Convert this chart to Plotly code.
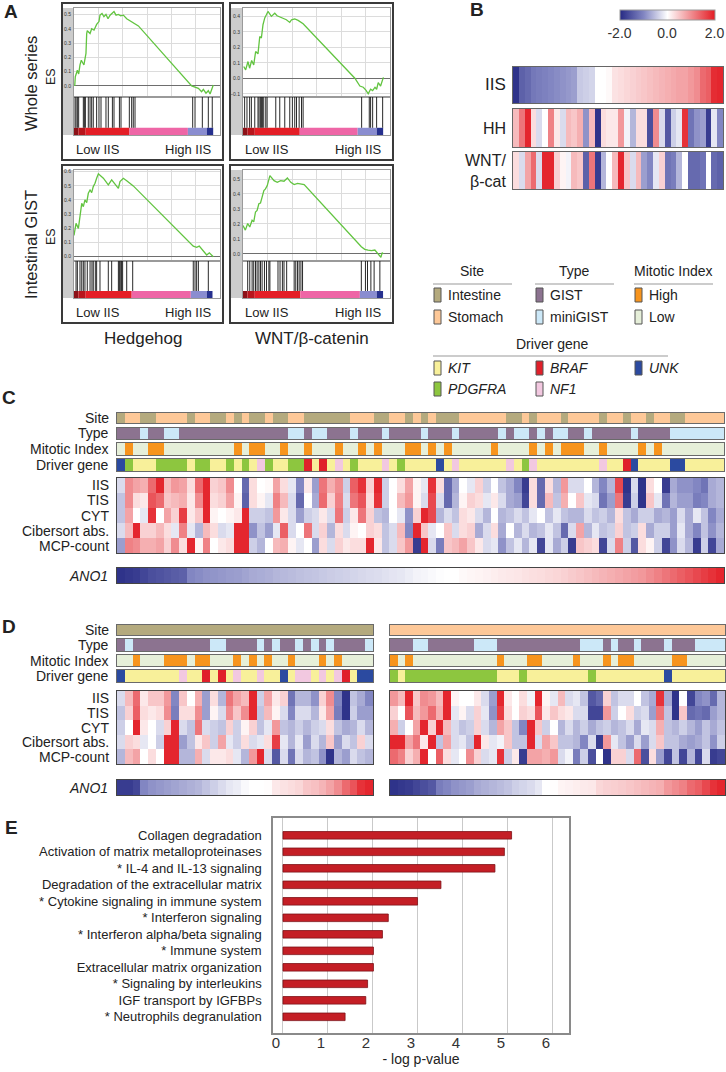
import plotly.graph_objects as go

FONT = "Liberation Sans, Arial, sans-serif"
W, H = 726, 1072

# ---------------- panel A: GSEA running enrichment scores ----------------
ES_X_WHOLE_HH = [0.5, 0.9, 2.3, 3.2, 4.1, 5.0, 6.8, 8.2, 8.7, 9.1, 11.0, 12.1, 13.7, 15.5, 17.1, 17.8,
                 19.2, 20.5, 21.9, 23.3, 24.7, 26.0, 27.4, 28.8, 30.4, 32.0, 33.8, 36.1, 40.6, 44.1,
                 80.6, 82.9, 85.2, 87.4, 88.6, 90.4, 92.0, 93.2, 94.3, 95.4]
ES_Y_WHOLE_HH = [0.0, 0.065, 0.11, 0.084, 0.147, 0.18, 0.147, 0.228, 0.367, 0.386, 0.367, 0.40, 0.39,
                 0.43, 0.45, 0.495, 0.507, 0.484, 0.50, 0.47, 0.495, 0.51, 0.52, 0.495, 0.50, 0.49,
                 0.495, 0.47, 0.44, 0.42, 0.0, -0.01, -0.016, -0.04, -0.023, -0.05, -0.033, -0.056,
                 -0.028, 0.007]
HITS_WHOLE_HH = [0.7, 1.4, 2.3, 3.2, 6.4, 7.1, 7.8, 9.8, 11.0, 12.1, 13.2, 15.5, 17.1, 18.5, 21.9, 23.5,
                 26.3, 27.4, 31.1, 32.2, 37.9, 39.5, 40.6, 41.8, 81.3, 82.9, 87.9, 92.0, 94.7]

ES_X_WHOLE_WNT = [0.5, 1.8, 3.4, 4.5, 5.9, 7.3, 8.6, 10.2, 11.4, 12.5, 13.6, 14.8, 15.9, 17.0, 19.3, 21.6,
                  23.2, 25.0, 27.3, 29.5, 31.8, 33.0, 35.2, 37.5, 40.9, 76.1, 79.5, 81.8, 83.6, 85.2,
                  86.8, 88.2, 89.8, 90.9, 92.0, 93.6, 95.5]
ES_Y_WHOLE_WNT = [0.076, 0.054, 0.108, 0.065, 0.115, 0.086, 0.173, 0.158, 0.27, 0.26, 0.346, 0.39, 0.41,
                  0.432, 0.40, 0.42, 0.404, 0.396, 0.39, 0.378, 0.361, 0.378, 0.383, 0.374, 0.352, 0.0,
                  -0.05, -0.058, -0.076, -0.10, -0.071, -0.08, -0.058, -0.071, -0.028, -0.05, 0.006]
HITS_WHOLE_WNT = [1.1, 2.7, 4.5, 5.7, 8.0, 10.2, 10.9, 11.8, 12.5, 13.2, 14.1, 15.5, 16.4, 22.3, 25.0,
                  28.4, 31.8, 33.6, 35.2, 36.4, 38.2, 39.8, 40.9, 80.7, 85.9, 86.8, 88.2, 90.9, 95.0]

ES_X_INT_HH = [0.0, 1.4, 3.0, 4.1, 5.3, 6.4, 7.5, 8.7, 9.8, 11.0, 12.1, 13.2, 14.4, 15.5, 16.7, 20.1,
               23.5, 25.8, 29.2, 30.4, 31.5, 33.8, 36.1, 38.4, 40.6, 81.7, 84.0, 85.8, 88.6, 90.9,
               92.7, 95.4]
ES_Y_INT_HH = [0.15, 0.235, 0.20, 0.306, 0.376, 0.353, 0.40, 0.381, 0.447, 0.47, 0.452, 0.494, 0.518,
               0.553, 0.584, 0.553, 0.506, 0.541, 0.494, 0.482, 0.529, 0.553, 0.536, 0.518, 0.499,
               0.075, 0.066, 0.075, 0.042, 0.012, 0.028, 0.0]
HITS_INT_HH = [1.4, 2.3, 4.1, 5.3, 6.4, 7.5, 9.1, 11.0, 12.3, 13.2, 14.6, 15.5, 17.8, 23.5, 25.8, 30.4,
               31.1, 32.0, 32.6, 33.3, 36.1, 40.2, 81.7, 82.9, 84.0, 85.2, 92.0]

ES_X_INT_WNT = [0.0, 1.6, 3.2, 4.6, 6.2, 7.3, 8.5, 9.6, 10.8, 11.9, 13.0, 14.2, 15.3, 16.5, 18.3, 19.9,
                21.1, 23.3, 25.6, 27.9, 30.2, 32.5, 34.8, 37.1, 39.4, 41.6, 80.5, 82.8, 85.1, 87.4,
                89.7, 92.0, 93.8, 94.7, 95.4]
ES_Y_INT_WNT = [0.19, 0.159, 0.203, 0.18, 0.225, 0.214, 0.28, 0.29, 0.335, 0.34, 0.379, 0.423, 0.434,
                0.456, 0.522, 0.50, 0.489, 0.478, 0.489, 0.485, 0.507, 0.478, 0.463, 0.471, 0.467,
                0.463, 0.048, 0.031, 0.026, 0.022, 0.026, 0.0, -0.022, 0.009, 0.0]
HITS_INT_WNT = [3.2, 4.6, 6.2, 7.3, 8.5, 9.6, 10.8, 11.9, 13.0, 14.6, 16.0, 17.6, 18.3, 23.8, 25.2, 26.8,
                27.9, 29.7, 34.8, 35.9, 37.1, 38.2, 39.4, 40.5, 80.5, 83.3, 84.7, 87.0, 89.2, 93.1]

RANK_COLORS = ["#8c1117", "#b8151c", "#e41e26", "#ee66a6", "#8a8dd0", "#26308e", "#ffffff"]
EDGES_WHOLE_HH = [0, 3, 8, 38, 78, 91, 95.5, 100]
EDGES_WHOLE_WNT = [0, 3, 8, 38.6, 78, 91, 95.5, 100]
EDGES_INT_HH = [0, 3, 8, 39.5, 80, 91, 95, 100]
EDGES_INT_WNT = [0, 3, 8, 39, 79.5, 91, 95.4, 100]

# ---------------- panel B ----------------
B_ROWS = ["IIS", "HH", "WNT/<br>β-cat"]
IIS_B = [-1.9, -1.4, -1.3, -1.15, -1.1, -1.05, -1.0, -0.95, -0.9, -0.85, -0.8, -0.45, -0.4, -0.35,
         0.0, 0.0, 0.05, 0.25, 0.3, 0.35, 0.4, 0.45, 0.5, 0.55, 0.6, 0.65, 0.7, 0.75, 0.8, 0.8, 0.9,
         1.0, 1.3, 1.4, 1.85, 1.9]
HH_B = [0.6, 1.2, 1.9, 0.3, -0.3, 0.0, 1.1, 0.2, -0.3, 0.6, 0.5, 0.7, -0.9, 0.6, -1.9, 0.3, 0.2, 0.2,
        0.9, -0.1, -0.6, 0.3, 0.3, -1.6, 1.0, -0.3, -1.5, -0.4, -0.2, 1.8, -1.2, -0.9, -0.8, -1.8,
        -0.2, -1.0]
WNT_B = [0.3, -0.3, 0.8, 1.3, -0.3, 1.9, 1.9, 0.4, 0.1, -0.1, 0.6, 0.5, -1.4, 1.2, -1.8, -0.6, 0.0,
         0.6, 1.9, 0.5, -0.3, 0.6, -0.8, -1.0, -0.2, 0.4, -1.2, -1.1, -0.6, 0.0, -1.3, -1.3, -1.2,
         0.0, -1.3, -1.4]

# ---------------- annotation categories ----------------
SITE_CATS = [("I", "Intestine", "#b4aa7e"), ("S", "Stomach", "#fdc898")]
TYPE_CATS = [("G", "GIST", "#8c7390"), ("M", "miniGIST", "#cce8f8")]
MITO_CATS = [("H", "High", "#f7941d"), ("L", "Low", "#e6efd9")]
DRIVER_CATS = [("K", "KIT", "#f8f09a"), ("P", "PDGFRA", "#8dc63f"), ("B", "BRAF", "#e0202a"),
               ("N", "NF1", "#f2c8e0"), ("U", "UNK", "#2b4aa0")]

SCORE_ROWS = ["IIS", "TIS", "CYT", "Cibersort abs.", "MCP-count"]

# ---------------- panel C (whole series, 78 samples) ----------------
SITE_C = "I SS II SSSS I SS II S I S II S II SS IIIIII SSS II SS I S I S III SSSSSS II S I SSS I SSSS I SS I SS I SS II SSSSS"
TYPE_C = "GGG M GG MM GGGGGGGGGGGGGG MM G MM GGG M GGG M GGGG M GGG M GGGGG M G MM G M G MM GG M GGGGG M GGGG MMMMMMM"
MITO_C = "L H LL HH LLLLLLLLL H L HH LL H LL H LLL H LL H L H LLL HH L H L H LLLLL H LLLL H L H L HHH LL H LLLL H L H LLLLLLLL"
DRIVER_C = "U P KKK PPPP K PP KK P K P K N P KK PP B K B K N K P KKK N K P KKKK U K N KKKKKK N K P N KKKKKKKK N KK B U KKKK UU KKKKK"

IIS_C = [-0.3, 1.0, 0.8, 0.7, 1.3, 1.9, 0.6, 0.9, 0.8, 0.3, 1.3, 1.9, 0.4, 0.5, 1.0, 0.0, -1.3, 0.3, 0.0,
         0.05, 0.8, 0.3, -0.2, -1.0, 0.2, -0.8, 1.2, 0.7, 1.0, -0.4, 1.4, 1.8, 0.4, 1.9, -0.4, 0.0, 0.3,
         0.8, 0.1, -0.2, 1.8, 0.3, -1.3, -0.7, 0.0, -0.2, 0.4, -0.4, 0.0, -0.5, -0.7, -1.0, -1.8, 0.3,
         -1.3, 0.3, -0.6, 0.9, -0.3, -0.3, 0.0, -0.6, -1.0, -0.6, 1.6, -1.9, -0.3, -1.9, 0.3, 0.0, -1.8,
         -0.7, -0.9, -0.9, -1.0, -1.2, -0.7, -0.6]
TIS_C = [-0.5, 1.0, 0.3, 0.2, 1.5, 1.3, 0.5, 0.6, 0.7, 0.2, 1.0, 1.9, 0.3, 0.4, 0.8, 0.1, -1.4, 0.3, 0.1,
         -0.2, 1.1, 0.6, -0.3, -1.3, 0.0, -0.7, 1.3, 0.4, 1.1, -0.3, 1.2, 1.5, 0.3, 1.8, -0.4, 0.0, 0.6,
         0.9, 0.1, -0.3, 1.6, -0.3, -1.3, -0.6, 0.1, 0.4, 0.3, -0.2, 0.2, -0.3, -0.7, -0.8, -1.7, 0.3,
         -1.3, 0.6, -0.5, 0.7, 0.0, 0.5, -0.2, -0.3, -1.2, -0.8, 1.2, -1.8, -0.4, -1.9, 0.5, -0.2, -1.2,
         -0.6, -0.8, -0.8, -1.1, -1.0, -0.7, -0.6]
CYT_C = [-0.5, 0.8, 0.0, -0.2, 1.8, 0.0, 0.8, 0.4, 1.7, 0.2, 0.5, 1.9, 0.1, 0.0, 0.1, 0.2, 1.9, -0.4, -0.4,
         -0.5, 0.9, 0.2, -0.3, -0.8, -0.4, -0.3, 0.2, -0.3, 1.2, -0.4, 0.2, 1.2, 0.4, -0.5, -0.6, 0.0,
         -0.2, -0.9, 0.4, 1.9, 1.6, -0.6, -0.3, -0.5, 0.3, 0.2, -0.3, -0.6, 0.0, -0.6, -0.5, -0.3, -0.5,
         -0.2, 0.0, -0.5, -0.2, -0.5, -0.6, -0.6, -0.3, -0.5, -0.4, -0.6, 0.3, -0.5, -0.7, -0.4, -0.4,
         -0.7, -0.6, -0.8, -0.3, -0.7, -0.2, -0.5, -1.0, -0.7]
CIBER_C = [-0.3, 0.6, 1.9, 0.4, 0.4, 0.6, 0.3, -0.2, 1.1, -0.2, -0.6, 0.6, 0.3, -0.3, -0.2, 1.9, 1.9, -0.9,
           -0.5, -0.8, -0.2, 1.4, -0.3, 0.0, 1.2, -0.3, 0.4, -0.6, 0.3, -0.3, 0.1, 0.0, 0.4, 0.3, -0.5,
           -0.3, 0.6, -1.0, 1.9, 0.5, -0.2, 0.0, 0.5, -0.3, 0.3, 0.4, -0.7, -0.3, 0.3, -0.7, 0.0, -0.6,
           -0.3, -0.6, -0.5, -0.2, -0.5, -1.3, -0.3, 0.8, -0.6, -0.2, -0.5, -0.4, 0.4, -0.5, -0.4, 0.3,
           -0.7, -0.4, -0.4, -0.8, -0.2, -0.7, -1.0, -0.5, -0.9, -0.6]
MCP_C = [-0.8, 1.1, 1.0, 0.7, 0.7, 0.8, 0.4, 1.0, 0.3, 1.9, 0.1, 1.1, 0.0, 0.2, 0.3, 1.9, 1.9, -0.4, -0.6,
         0.0, 0.6, 0.7, 0.1, -0.2, 0.0, -0.8, 0.3, -0.3, 0.4, 0.2, 0.3, 0.3, 1.9, 0.2, -0.5, -0.3, 0.5,
         0.9, -1.8, 1.9, -0.3, -1.1, 0.5, 0.6, 0.8, 0.5, 0.2, -0.3, -0.2, -0.9, -0.5, -0.2, -0.6, -0.2,
         -1.7, -0.2, -0.7, -0.4, -1.8, 0.5, 0.4, 0.3, -1.7, -0.3, 1.1, -0.4, -1.5, 0.3, 0.1, -0.4, -1.7,
         -0.9, -0.3, -0.6, -1.8, -0.4, -1.7, -0.7]
ANO1_C = [-1.9, -1.85, -1.8, -1.7, -1.6, -1.55, -1.5, -1.45, -1.4, -1.0, -0.95, -0.9, -0.88, -0.85, -0.82,
          -0.8, -0.75, -0.7, -0.68, -0.65, -0.6, -0.58, -0.55, -0.52, -0.5, -0.48, -0.45, -0.42, -0.4,
          -0.38, -0.35, -0.32, -0.3, -0.28, -0.25, -0.22, -0.2, -0.15, -0.1, -0.08, -0.05, -0.02, 0.0,
          0.0, 0.05, 0.08, 0.1, 0.12, 0.15, 0.18, 0.2, 0.22, 0.25, 0.28, 0.3, 0.33, 0.36, 0.4, 0.45, 0.5,
          0.55, 0.6, 0.65, 0.7, 0.75, 0.8, 0.85, 0.9, 1.0, 1.1, 1.2, 1.3, 1.4, 1.5, 1.6, 1.7, 1.8, 1.9]

# ---------------- panel D left (intestine, 33 samples) ----------------
TYPE_DL = "G M GGGGGGGGGG MM GGGG M G M GG M G M G M GGGG M"
MITO_DL = "LL H LLL HHH L HH LLL H L H L H LL H LLL H L H LLLL"
DRIVER_DL = "U KKKKKKK N KK B K B K N KK N KK U K NN K N K N B K UU"
IIS_DL = [-0.3, 0.6, 1.3, 0.2, 0.5, 0.5, 0.9, -1.0, 0.5, 0.0, 0.7, -0.8, 0.3, -0.6, 1.2, 0.8, 0.6, 1.9,
          -0.4, 0.8, 0.2, 0.4, -1.2, -0.6, -0.6, -0.9, 0.4, 1.0, -1.0, -1.9, -0.5, -0.7, -1.0]
TIS_DL = [-0.5, 0.4, 1.4, 0.3, 0.2, 0.3, 1.0, -1.1, 0.3, 0.3, 1.0, -0.8, 0.1, -0.3, 1.0, 0.5, 1.0, 1.9,
          -0.5, 0.6, 0.1, -0.3, -1.0, -0.3, -0.3, -0.6, 0.2, 0.8, -1.1, -1.9, -0.4, -0.8, -0.8]
CYT_DL = [-0.4, 0.0, 1.9, 0.2, 0.0, -0.3, 0.4, 1.9, -0.3, -0.5, 1.2, -0.3, -0.4, -0.5, 0.4, -0.4, 0.1, 0.4,
          -0.5, -0.2, 0.9, -0.5, -0.6, -0.4, -0.6, -0.4, -0.3, 0.3, -0.5, -0.7, -0.6, -0.3, -0.6]
CIBER_DL = [-0.3, 0.4, 0.3, -0.2, 0.0, -0.4, 1.9, 1.9, -0.8, -0.5, 0.2, 0.5, -0.4, 0.8, -0.2, -0.4, 0.3,
            -0.3, -0.2, 0.3, 1.7, -0.2, -0.6, -0.2, -0.8, -0.3, -0.6, 0.5, -0.8, -0.3, -0.5, 0.4, -0.3]
MCP_DL = [-0.6, 0.6, 0.8, 0.0, 0.3, 0.0, 1.9, 1.9, -0.6, -0.6, 0.7, -0.3, 0.2, 0.2, 0.3, -0.2, -0.6, 0.9,
          1.9, -0.3, -1.5, -0.3, -1.2, -0.3, -0.6, -0.5, -0.9, -1.9, -0.6, -0.8, -0.3, -0.5, -0.6]
ANO1_DL = [-1.8, -1.8, -1.7, -1.0, -0.9, -0.85, -0.8, -0.75, -0.7, -0.65, -0.6, -0.5, -0.4, -0.3, -0.2,
           -0.15, -0.05, 0.0, 0.0, 0.02, 0.2, 0.25, 0.3, 0.35, 0.5, 0.55, 0.65, 0.8, 1.0, 1.3, 1.5, 1.8,
           1.9]

# ---------------- panel D right (stomach, 44 samples) ----------------
TYPE_DR = "GGG MM GGGGGG MMM GGGGGGGGGGG MMM G M GG M GGG M GGG MMMM"
MITO_DR = "H L H LLLLLLLLLLL H LLL HH LLLL H LLL H L HH LLLLL HH LLLLL"
DRIVER_DR = "P K PPPPPPPPPPPP KKK P KKKKKKKK P KKKKKKKKK U KKKKKKK"
IIS_DR = [0.9, 0.6, 1.9, 0.5, 1.0, 0.9, 0.6, 1.9, 0.1, 0.0, 0.0, 0.2, -0.3, -0.8, 1.9, 0.2, 0.0, 0.3,
          -0.1, 1.9, 0.1, -0.2, 0.6, -0.3, -0.2, -0.5, -1.5, -1.3, 0.4, -0.5, -0.3, -0.3, 0.0, -0.5,
          -0.7, 1.8, -0.7, -1.9, 0.0, -1.7, -1.0, -0.9, -1.3, -0.6]
TIS_DR = [0.4, 0.0, 1.5, 0.6, 0.9, 1.3, 0.7, 1.9, -0.2, 0.1, -0.3, 0.4, -0.2, -0.9, 1.7, 0.3, 0.0, 0.4,
          0.3, 1.5, 0.2, 0.5, 0.3, 0.2, -0.3, -0.3, -1.7, -1.7, 0.9, -0.4, 0.0, 0.3, -0.4, -0.3, -0.8,
          1.2, -0.5, -1.9, 0.5, -1.3, -1.2, -1.3, -0.8, -0.6]
CYT_DR = [0.7, -0.4, 0.0, 0.8, 1.9, 0.4, 1.9, 0.6, -0.3, -0.5, -0.4, 0.4, -0.3, -0.6, 0.8, 0.5, -0.5,
          -1.0, 1.9, 0.5, -0.4, 0.0, -0.6, -0.3, -0.6, -0.4, -0.7, -0.5, -0.4, -0.6, -0.5, -0.3, -0.7,
          -0.2, -0.3, 0.7, -0.5, -0.6, -0.4, -0.6, -0.8, -0.5, -0.7, -0.5]
CIBER_DR = [1.9, 1.9, 0.8, 1.2, 0.2, 1.9, -0.5, 0.8, -0.3, -0.2, -0.5, 1.9, 0.2, -0.2, -0.1, 0.5, -0.5,
            -0.5, 1.9, -0.3, 0.8, 0.5, -0.5, -0.5, -0.6, -1.0, -0.3, -1.8, 0.9, -0.2, -0.5, -0.8, -0.3,
            -0.8, -0.3, 0.5, -0.5, -0.5, -0.7, -0.8, -0.7, -0.5, -0.9, -0.4]
MCP_DR = [1.3, 1.1, 0.4, 0.7, 1.9, 0.0, 1.4, 0.3, -0.2, 0.0, 1.0, 0.4, -0.3, -0.2, 1.8, -0.4, 0.2, -1.8,
          0.8, 0.8, 0.7, 0.9, -0.3, -0.1, -1.1, -0.4, -1.6, 0.0, -1.9, 0.4, 0.4, -0.3, 1.3, -1.6, 0.3,
          -0.8, -1.7, -0.5, -1.7, -0.6, -1.7, -0.3, -1.8, -1.7]
ANO1_DR = [-1.9, -1.85, -1.8, -1.7, -1.6, -1.5, -1.1, -1.0, -0.9, -0.85, -0.8, -0.7, -0.65, -0.6, -0.55,
           -0.5, -0.4, -0.35, -0.3, -0.2, 0.0, 0.02, 0.1, 0.12, 0.15, 0.18, 0.2, 0.35, 0.4, 0.42, 0.45,
           0.5, 0.55, 0.6, 0.65, 0.7, 0.9, 1.0, 1.1, 1.3, 1.4, 1.6, 1.8, 1.9]

# ---------------- panel E: pathway enrichment ----------------
E_LABELS = ["Collagen degradation", "Activation of matrix metalloproteinases",
            "* IL-4 and IL-13 signaling", "Degradation of the extracellular matrix",
            "* Cytokine signaling in immune system", "* Interferon signaling",
            "* Interferon alpha/beta signaling", "* Immune system",
            "Extracellular matrix organization", "* Signaling by interleukins",
            "IGF transport by IGFBPs", "* Neutrophils degranulation"]
E_VALUES = [5.08, 4.92, 4.71, 3.51, 2.99, 2.34, 2.21, 2.01, 2.01, 1.88, 1.84, 1.38]
E_TICKS = [0, 1, 2, 3, 4, 5, 6]


def codes(s):
    return list("".join(s.split()))


for seq, n in [(SITE_C, 78), (TYPE_C, 78), (MITO_C, 78), (DRIVER_C, 78),
               (TYPE_DL, 33), (MITO_DL, 33), (DRIVER_DL, 33),
               (TYPE_DR, 44), (MITO_DR, 44), (DRIVER_DR, 44)]:
    assert len(codes(seq)) == n, (seq, len(codes(seq)))
for row, n in [(IIS_C, 78), (TIS_C, 78), (CYT_C, 78), (CIBER_C, 78), (MCP_C, 78), (ANO1_C, 78),
               (IIS_DL, 33), (TIS_DL, 33), (CYT_DL, 33), (CIBER_DL, 33), (MCP_DL, 33), (ANO1_DL, 33),
               (IIS_DR, 44), (TIS_DR, 44), (CYT_DR, 44), (CIBER_DR, 44), (MCP_DR, 44), (ANO1_DR, 44)]:
    assert len(row) == n, (n, len(row))

HEAT_CS = [[0, "#262a84"], [0.25, "#8286c2"], [0.5, "#ffffff"], [0.75, "#f08c90"], [1, "#e31b23"]]
TXT = "#222222"

fig = go.Figure()
axes = {}
shapes = []
notes = []
count = [0]


def fx(x):
    return x / W


def fy(y):
    return 1 - y / H


def add_axes(x0, x1, y0, y1, xopt, yopt):
    count[0] += 1
    s = "" if count[0] == 1 else str(count[0])
    axes["xaxis" + s] = dict(domain=[fx(x0), fx(x1)], anchor="y" + s, **xopt)
    axes["yaxis" + s] = dict(domain=[fy(y1), fy(y0)], anchor="x" + s, **yopt)
    return "x" + s, "y" + s


BLANK = dict(showticklabels=False, showgrid=False, zeroline=False, ticks="", fixedrange=True)


def frame(color="#666666", width=1.2):
    return dict(showline=True, mirror=True, linecolor=color, linewidth=width)


def label(x, y, text, size=14, anchor="center", **kw):
    notes.append(dict(x=fx(x), y=fy(y), xref="paper", yref="paper", text=text, showarrow=False,
                      xanchor=anchor, yanchor="middle", borderpad=0,
                      font=dict(size=size, family=FONT, color=TXT), **kw))


def rect(x0, y0, x1, y1, fill="rgba(0,0,0,0)", line="#333333", width=1, layer="above"):
    shapes.append(dict(type="rect", xref="paper", yref="paper", x0=fx(x0), x1=fx(x1),
                       y0=fy(y1), y1=fy(y0), fillcolor=fill, layer=layer,
                       line=dict(color=line, width=width)))


def heat(rows, x0, x1, y0, y1, border="#555555", **kw):
    ncol, nrow = len(rows[0]), len(rows)
    xa, ya = add_axes(x0, x1, y0, y1,
                      dict(range=[-0.5, ncol - 0.5], **BLANK, **frame(border)),
                      dict(range=[nrow - 0.5, -0.5], **BLANK, **frame(border)))
    opts = dict(showscale=False)
    opts.update(kw)
    fig.add_trace(go.Heatmap(z=rows, xaxis=xa, yaxis=ya, colorscale=HEAT_CS, zmin=-2, zmax=2,
                             hoverinfo="skip", **opts))


def track(seq, cats, x0, x1, y0, y1):
    keys = [c[0] for c in cats]
    z = [[keys.index(c) for c in codes(seq)]]
    n = len(cats)
    cs = []
    for i, c in enumerate(cats):
        cs += [[i / n, c[2]], [(i + 1) / n, c[2]]]
    xa, ya = add_axes(x0, x1, y0, y1,
                      dict(range=[-0.5, len(z[0]) - 0.5], **BLANK, **frame("#6a6a6a")),
                      dict(range=[-0.5, 0.5], **BLANK, **frame("#6a6a6a")))
    fig.add_trace(go.Heatmap(z=z, xaxis=xa, yaxis=ya, colorscale=cs, zmin=-0.5, zmax=n - 0.5,
                             showscale=False, hoverinfo="skip"))


# ================= Panel A =================
boxes = [
    # box rect, plot x, es y, hits y, y range, data
    ((62, 223, 3, 160), (74, 220), (8, 97), (97, 135), [-0.077, 0.545],
     ES_X_WHOLE_HH, ES_Y_WHOLE_HH, HITS_WHOLE_HH, EDGES_WHOLE_HH, 149),
    ((230, 393, 3, 160), (243, 390), (8, 97), (97, 135), [-0.121, 0.454],
     ES_X_WHOLE_WNT, ES_Y_WHOLE_WNT, HITS_WHOLE_WNT, EDGES_WHOLE_WNT, 149),
    ((62, 223, 165, 323), (74, 220), (170, 261), (261, 298), [-0.03, 0.611],
     ES_X_INT_HH, ES_Y_INT_HH, HITS_INT_HH, EDGES_INT_HH, 312),
    ((230, 393, 165, 323), (243, 390), (170, 261), (261, 298), [-0.047, 0.56],
     ES_X_INT_WNT, ES_Y_INT_WNT, HITS_INT_WNT, EDGES_INT_WNT, 312),
]

for (bx0, bx1, by0, by1), (px0, px1), (ey0, ey1), (hy0, hy1), yr, ex, ey, hits, edges, ty in boxes:
    rect(bx0, ey0, px0, hy1, fill="#cccccc", line="#cccccc", width=0, layer="below")
    xa, ya = add_axes(px0, px1, ey0, ey1,
                      dict(range=[0, 100], showticklabels=False, ticks="", zeroline=False,
                           showgrid=True, gridcolor="#dcdcdc", gridwidth=1, tick0=0, dtick=100 / 6,
                           fixedrange=True, **frame("#9a9a9a", 1)),
                      dict(range=yr, dtick=0.1, tick0=0, tickformat=".1f", ticks="",
                           tickfont=dict(size=5, color="#333333"), ticklabelstandoff=1,
                           showgrid=True, gridcolor="#dcdcdc", zeroline=True, zerolinecolor="#6e6e6e",
                           zerolinewidth=1, fixedrange=True, **frame("#9a9a9a", 1)))
    fig.add_trace(go.Scatter(x=ex, y=ey, mode="lines", line=dict(color="#62c440", width=1.3),
                             xaxis=xa, yaxis=ya, hoverinfo="skip"))

    xa, ya = add_axes(px0, px1, hy0, hy1,
                      dict(range=[0, 100], **BLANK, **frame("#9a9a9a", 1)),
                      dict(range=[0, 1], **BLANK, **frame("#9a9a9a", 1)))
    hx, hyv = [], []
    for h in hits:
        hx += [h, h, None]
        hyv += [0.19, 1, None]
    fig.add_trace(go.Scatter(x=hx, y=hyv, mode="lines", line=dict(color="#111111", width=0.9),
                             xaxis=xa, yaxis=ya, hoverinfo="skip"))
    widths = [b - a for a, b in zip(edges[:-1], edges[1:])]
    fig.add_trace(go.Bar(x=widths, base=edges[:-1], y=[0.095] * len(widths), width=0.19,
                         orientation="h", marker=dict(color=RANK_COLORS, line=dict(width=0)),
                         xaxis=xa, yaxis=ya, hoverinfo="skip"))

    rect(bx0, by0, bx1, by1, line="#3a3a3a", width=2)
    label(px0 + 1, ty, "Low IIS", 13, anchor="left")
    label(px1 - 7, ty, "High IIS", 13, anchor="right")

label(31, 84, "Whole series", 16.5, textangle=-90)
label(51, 77, "ES", 12.5, textangle=-90)
label(31, 245, "Intestinal GIST", 16.5, textangle=-90)
label(51, 237, "ES", 12.5, textangle=-90)
label(143, 338, "Hedgehog", 17)
label(312, 338, "WNT/β-catenin", 17)

# ================= Panel B =================
b_rows = [IIS_B, HH_B, WNT_B]
b_y = [(67, 103), (109, 147), (152, 189)]
for i, (name, vals, (y0, y1)) in enumerate(zip(B_ROWS, b_rows, b_y)):
    extra = {}
    if i == 0:
        extra = dict(showscale=True,
                     colorbar=dict(orientation="h", x=fx(667), xanchor="center", y=fy(10.5),
                                   yanchor="top", len=95, lenmode="pixels", thickness=10,
                                   thicknessmode="pixels", tickvals=[-2, 0, 2],
                                   ticktext=["-2.0", "0.0", "2.0"], ticks="", xpad=0, ypad=0,
                                   ticklabeloverflow="allow",
                                   outlinecolor="#999999", outlinewidth=1,
                                   tickfont=dict(size=14, family=FONT, color="#333333")))
    heat([vals], 513, 723, y0, y1, border="#666666", **extra)
    label(507, (y0 + y1) / 2, name, 17 if i == 0 else 16, anchor="right", align="right")

# legend for annotation tracks
groups = [("Site", 433, SITE_CATS), ("Type", 535, TYPE_CATS), ("Mitotic Index", 634, MITO_CATS)]
for title, gx, cats in groups:
    label(gx + 39, 271, title, 14)
    shapes.append(dict(type="line", xref="paper", yref="paper", x0=fx(gx), x1=fx(gx + 79),
                       y0=fy(284), y1=fy(284), line=dict(color="#9a9a9a", width=1.2)))
    for j, (_, name, col) in enumerate(cats):
        yy = 295 + 22 * j
        rect(gx + 1, yy - 7, gx + 8, yy + 7, fill=col, line="#555555", width=1)
        label(gx + 14, yy, name, 14, anchor="left")

label(552, 344, "Driver gene", 14)
shapes.append(dict(type="line", xref="paper", yref="paper", x0=fx(433), x1=fx(668),
                   y0=fy(356), y1=fy(356), line=dict(color="#9a9a9a", width=1.2)))
driver_pos = [(433, 368), (433, 389), (535, 368), (535, 389), (634, 368)]
for (gx, yy), (_, name, col) in zip(driver_pos, DRIVER_CATS):
    rect(gx + 1, yy - 7, gx + 8, yy + 7, fill=col, line="#555555", width=1)
    label(gx + 14, yy, "<i>" + name + "</i>", 14, anchor="left")

# ================= Panel C =================
LX = 110
c_tracks = [("Site", SITE_C, SITE_CATS, 413, 423), ("Type", TYPE_C, TYPE_CATS, 428, 439),
            ("Mitotic Index", MITO_C, MITO_CATS, 443, 455), ("Driver gene", DRIVER_C, DRIVER_CATS, 459, 471)]
for name, seq, cats, y0, y1 in c_tracks:
    track(seq, cats, 117, 724, y0, y1)
    label(LX, (y0 + y1) / 2, name, 14, anchor="right")
heat([IIS_C, TIS_C, CYT_C, CIBER_C, MCP_C], 117, 724, 478, 553, border="#444444")
for i, name in enumerate(SCORE_ROWS):
    label(LX, 478 + 7.5 + 15 * i, name, 14, anchor="right")
heat([ANO1_C], 117, 724, 568, 583, border="#444444")
label(LX - 1, 576, "<i>ANO1</i>", 14, anchor="right")

# ================= Panel D =================
d_tracks = [("Site", 625, 635), ("Type", 639, 651), ("Mitotic Index", 655, 666), ("Driver gene", 670, 682)]
left = ["I" * 33, TYPE_DL, MITO_DL, DRIVER_DL]
right = ["S" * 44, TYPE_DR, MITO_DR, DRIVER_DR]
cat_list = [SITE_CATS, TYPE_CATS, MITO_CATS, DRIVER_CATS]
for (name, y0, y1), sl, sr, cats in zip(d_tracks, left, right, cat_list):
    track(sl, cats, 117, 373, y0, y1)
    track(sr, cats, 390, 725, y0, y1)
    label(LX, (y0 + y1) / 2, name, 14, anchor="right")
heat([IIS_DL, TIS_DL, CYT_DL, CIBER_DL, MCP_DL], 117, 373, 691, 764, border="#444444")
heat([IIS_DR, TIS_DR, CYT_DR, CIBER_DR, MCP_DR], 390, 725, 691, 764, border="#444444")
for i, name in enumerate(SCORE_ROWS):
    label(LX, 691 + 7.3 + 14.6 * i, name, 14, anchor="right")
heat([ANO1_DL], 117, 373, 780, 795, border="#444444")
heat([ANO1_DR], 390, 725, 780, 795, border="#444444")
label(LX - 1, 788, "<i>ANO1</i>", 14, anchor="right")

# ================= Panel E =================
# bars and grid sit on the back plane, tick labels are drawn on the front edge (shifted left)
count[0] += 1
se = str(count[0])
axes["xaxis" + se] = dict(domain=[fx(273), fx(569)], anchor="y" + se, range=[-0.222, 6.356],
                          tickvals=E_TICKS, ticks="", zeroline=False, showgrid=True,
                          gridcolor="#c9c9c9", gridwidth=1, fixedrange=True,
                          ticklabelshift=-7, ticklabelstandoff=-5,
                          tickfont=dict(size=15, family=FONT, color="#333333"),
                          title=dict(text="- log p-value", standoff=3,
                                     font=dict(size=14, family=FONT, color=TXT)),
                          **frame("#8a8a8a", 1.5))
axes["yaxis" + se] = dict(domain=[fy(1033), fy(818)], anchor="x" + se, type="category",
                          categoryorder="array", categoryarray=E_LABELS, range=[11.98, -1.05],
                          ticks="", showgrid=False, ticklabelstandoff=7, fixedrange=True,
                          tickfont=dict(size=13, family=FONT, color=TXT),
                          **frame("#8a8a8a", 1.5))
fig.add_trace(go.Bar(x=E_VALUES, y=E_LABELS, orientation="h", width=0.46,
                     marker=dict(color="#c41e25", line=dict(color="#7d1116", width=0.8)),
                     xaxis="x" + se, yaxis="y" + se, hoverinfo="skip"))

# panel letters
for letter, x, y in [("A", 11, 12), ("B", 477, 10), ("C", 9, 398), ("D", 9, 626), ("E", 11, 827)]:
    label(x, y, "<b>" + letter + "</b>", 19)

fig.update_layout(width=W, height=H, margin=dict(l=0, r=0, t=0, b=0, autoexpand=False),
                  paper_bgcolor="white", plot_bgcolor="white", showlegend=False,
                  font=dict(family=FONT, size=13, color=TXT), shapes=shapes, annotations=notes,
                  **axes)
fig.write_html("out.html", config={"displayModeBar": False},
               post_script="document.body.style.margin='0';document.body.style.overflow='hidden';")
